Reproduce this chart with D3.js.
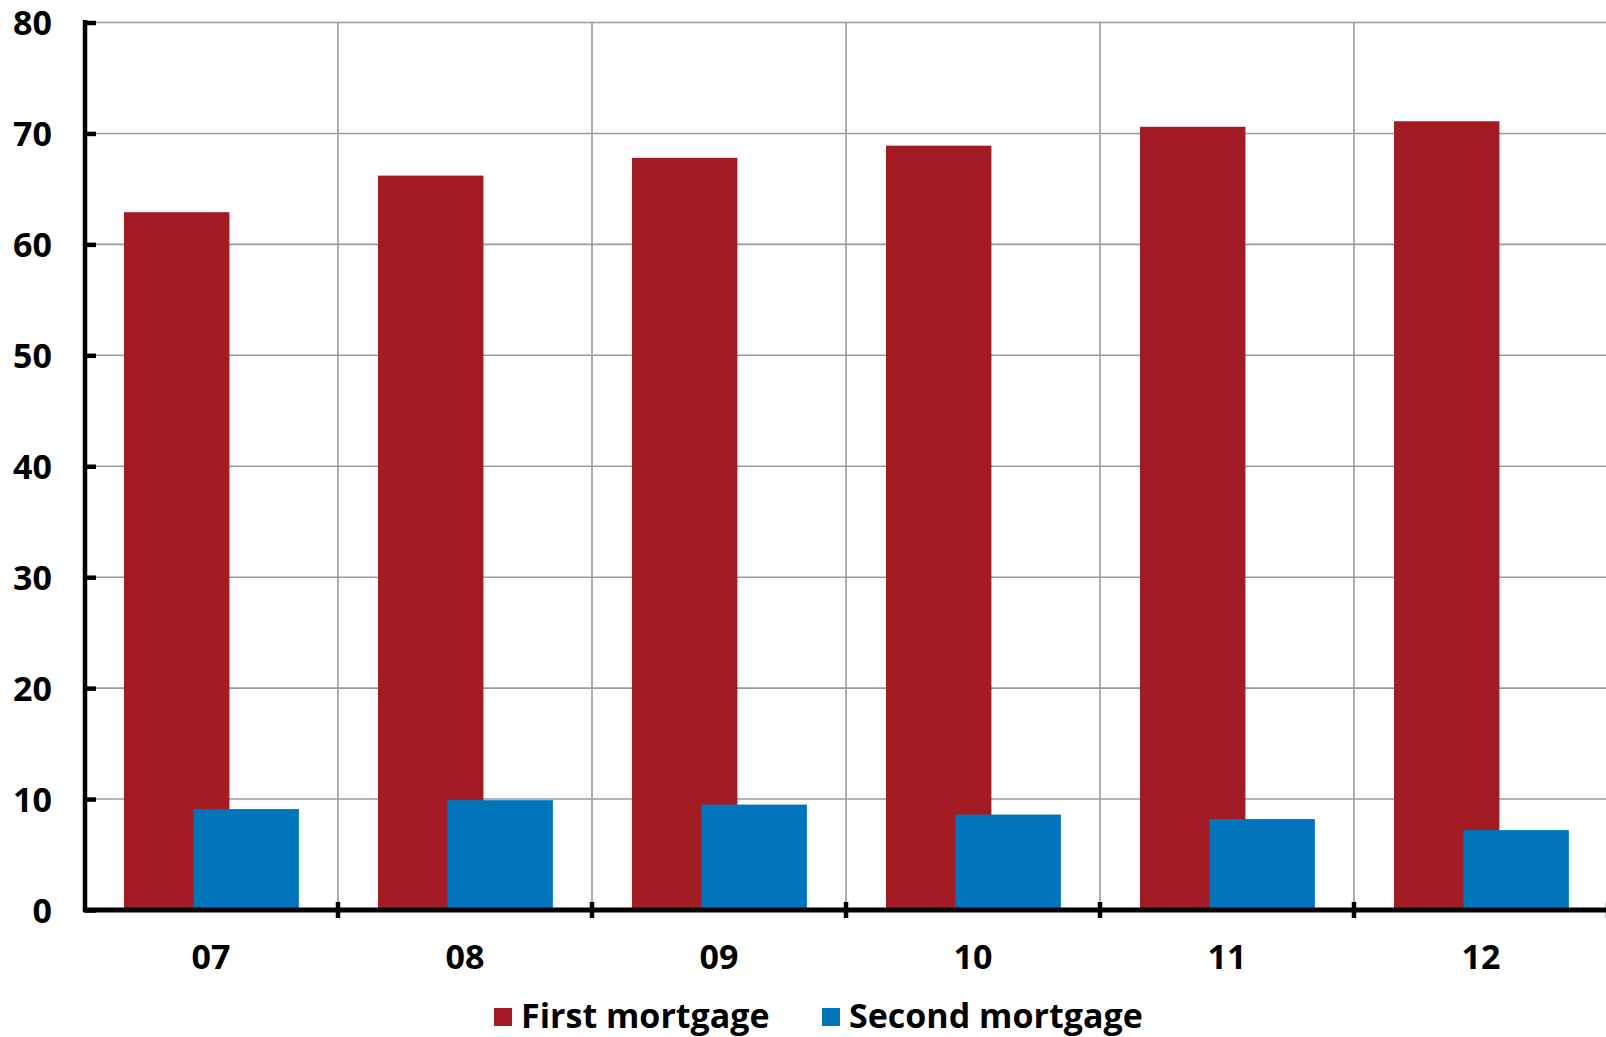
<!DOCTYPE html>
<html><head><meta charset="utf-8">
<script src="https://cdn.jsdelivr.net/npm/d3@7"></script>
<style>
html,body{margin:0;padding:0;background:#fff;}
svg{display:block;}
text{font-family:"Open Sans","Noto Sans",sans-serif;font-weight:700;fill:#000;}
</style></head>
<body>
<svg id="chart" width="1606" height="1037"></svg>
<script>
const categories = ["07","08","09","10","11","12"];
const firstMortgage = [62.9, 66.2, 67.8, 68.9, 70.6, 71.1];
const secondMortgage = [9.1, 9.9, 9.5, 8.6, 8.2, 7.2];
const seriesNames = ["First mortgage","Second mortgage"];
const seriesColors = ["#A31C23","#0075BC"];
const yTicks = [0,10,20,30,40,50,60,70,80];

const svg = d3.select("#chart");
const W = 1606, H = 1037;
const plotLeft = 84, plotTop = 22.5, plotBottom = 910;
const step = 254;
const fs = "34px";

const x = d3.scaleBand().domain(categories).range([plotLeft, plotLeft + step*categories.length]).padding(0);
const y = d3.scaleLinear().domain([0,80]).range([plotBottom, plotTop]);
const bw = x.bandwidth();
// offset of each series within a category band (overlapping bars)
const xs = d3.scaleLinear().domain([0,1]).range([bw*0.1575, bw*0.431]);
const barW = bw*0.415;

// horizontal gridlines
svg.append("g").selectAll("line").data(yTicks.filter(d=>d>0)).join("line")
  .attr("x1", plotLeft).attr("x2", W).attr("y1", d=>y(d)).attr("y2", d=>y(d))
  .attr("stroke","#9a9a9a").attr("stroke-width",1.6);
// vertical gridlines at band boundaries
const bounds = categories.slice(1).map(c=>x(c));
svg.append("g").selectAll("line").data(bounds).join("line")
  .attr("x1", d=>d).attr("x2", d=>d).attr("y1", plotTop).attr("y2", plotBottom)
  .attr("stroke","#9a9a9a").attr("stroke-width",1.6);

// bars
const series = [firstMortgage, secondMortgage];
series.forEach((vals, si) => {
  svg.append("g").selectAll("rect").data(vals).join("rect")
    .attr("x", (d,i)=>x(categories[i]) + xs(si))
    .attr("width", barW)
    .attr("y", d=>y(d))
    .attr("height", d=>y(0)-y(d))
    .attr("fill", seriesColors[si]);
});

// y axis
const yAxis = d3.axisLeft(y).tickValues(yTicks).tickSize(-11).tickPadding(0).tickFormat(d3.format("d"));
const gy = svg.append("g").attr("transform",`translate(${plotLeft+1},0)`).call(yAxis);
gy.select(".domain").attr("stroke","#000").attr("stroke-width",4.5).attr("d",`M0,${plotTop-2.5}V${plotBottom+2}`);
gy.selectAll(".tick line").attr("stroke","#000").attr("stroke-width",4.5);
gy.selectAll(".tick text").attr("x",-33).attr("dy","0.36em").style("font-size",fs).attr("text-anchor","end");

// x axis
const xAxis = d3.axisBottom(x).tickSize(0).tickPadding(0);
const gx = svg.append("g").attr("transform",`translate(0,${plotBottom})`).call(xAxis);
gx.select(".domain").attr("stroke","#000").attr("stroke-width",5).attr("d",`M${plotLeft-1},0H${W}`);
gx.selectAll(".tick text").attr("y",59).attr("dy",0).style("font-size",fs);
// x tick marks at band boundaries
gx.append("g").selectAll("line").data(bounds.concat([plotLeft + step*categories.length])).join("line")
  .attr("x1", d=>d).attr("x2", d=>d).attr("y1",-8).attr("y2",8)
  .attr("stroke","#000").attr("stroke-width",4.5);

// legend
const legendItems = [
  {name: seriesNames[0], color: seriesColors[0], sx: 494, tx: 521},
  {name: seriesNames[1], color: seriesColors[1], sx: 822, tx: 849}
];
const lg = svg.append("g");
legendItems.forEach(it=>{
  lg.append("rect").attr("x",it.sx).attr("y",1008).attr("width",18).attr("height",18).attr("fill",it.color);
  lg.append("text").attr("x",it.tx).attr("y",1028).style("font-size",fs).text(it.name);
});
</script>
</body></html>
